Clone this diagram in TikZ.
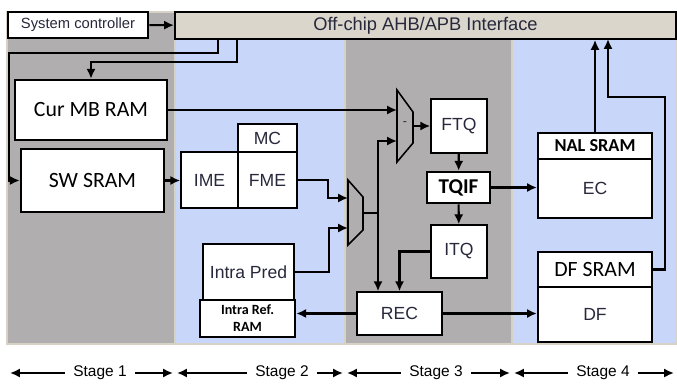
\documentclass[tikz,border=0pt]{standalone}
\usepackage{fontspec}
\setmainfont{Liberation Sans}
\newfontfamily\calibri{Carlito}
\usetikzlibrary{positioning,arrows.meta}
\definecolor{stagegray}{RGB}{176,174,174}
\definecolor{stageblue}{RGB}{200,214,250}
\definecolor{busfill}{RGB}{218,214,204}
\definecolor{stageedge}{RGB}{214,210,198}
\definecolor{labelcol}{RGB}{40,40,60}

\begin{document}
\begin{tikzpicture}[x=0.025cm,y=-0.025cm,>={Latex[length=7pt,width=6.5pt]}]
  % Styles for the encoder pipeline
  \tikzset{
    memory/.style={rectangle, draw=black, fill=white, line width=1.8pt, inner sep=0pt, text centered, font=\calibri\fontsize{15.5}{18}\selectfont},
    memsmall/.style={memory, font=\calibri\bfseries\fontsize{13}{15}\selectfont},
    module/.style={rectangle, draw=black, fill=white, line width=1.1pt, inner sep=0pt, text centered, text=labelcol, font=\fontsize{12.5}{15}\selectfont},
    mux/.style={draw=black, line width=1.1pt, fill=stagegray},
    conn/.style={->, line width=1.5pt},
    stagebg/.style={draw=stageedge, line width=1.2pt},
    stagelabel/.style={font=\fontsize{11}{13}\selectfont, inner xsep=6pt},
    stagearrow/.style={->, line width=1.2pt, shorten >=1.5pt}
  }
  \useasboundingbox (0,0) rectangle (677,383);

  % Stage backgrounds
  \draw[stagebg, fill=stagegray] (7,12) rectangle (175,344);
  \draw[stagebg, fill=stageblue] (175,39) rectangle (345,344);
  \draw[stagebg, fill=stagegray] (345,39) rectangle (512,344);
  \draw[stagebg, fill=stageblue] (512,39) rectangle (677,344);

  % Top row
  \node[module, line width=1.8pt, minimum width=3.5cm, minimum height=0.65cm, font=\fontsize{10.5}{12}\selectfont] (sysctrl) at (78,25) {System controller};
  \node[rectangle, draw=black, fill=busfill, line width=1.3pt, minimum width=12.525cm, minimum height=0.675cm, inner sep=0pt, text=labelcol, font=\fontsize{13}{15}\selectfont] (bus) at (425.5,25.5) {Off-chip AHB/APB Interface};

  % Stage 1
  \node[memory, minimum width=3.8cm, minimum height=1.5cm] (curmb) at (91,110) {Cur MB RAM};
  \node[memory, minimum width=3.575cm, minimum height=1.575cm] (swsram) at (92.5,180.5) {SW SRAM};

  % Stage 2
  \node[module, minimum width=1.425cm, minimum height=1.4cm] (ime) at (209.5,180) {IME};
  \node[module, minimum width=1.475cm, minimum height=1.4cm] (fme) at (267.5,180) {FME};
  \node[module, minimum width=1.475cm, minimum height=0.7cm] (mc) at (267.5,138) {MC};
  \node[module, minimum width=2.275cm, minimum height=1.4cm] (intrapred) at (248.5,272) {Intra Pred};
  \node[memsmall, minimum width=2.375cm, minimum height=0.925cm, align=center, font=\calibri\bfseries\fontsize{10}{12}\selectfont] (intraref) at (247.5,318.5) {Intra Ref.\\RAM};

  % Stage 3
  \node[module, minimum width=1.4cm, minimum height=1.35cm] (ftq) at (459,126) {FTQ};
  \node[memsmall, minimum width=1.575cm, minimum height=0.775cm, font=\calibri\bfseries\fontsize{15}{17}\selectfont] (tqif) at (458.5,187.5) {TQIF};
  \node[module, minimum width=1.4cm, minimum height=1.325cm] (itq) at (459,251.5) {ITQ};
  \node[module, minimum width=2.125cm, minimum height=1.075cm] (rec) at (399.5,313.5) {REC};

  % Stage 4
  \node[memsmall, minimum width=2.85cm, minimum height=0.65cm] (nal) at (595,146) {NAL SRAM};
  \node[module, line width=1.5pt, minimum width=2.85cm, minimum height=1.475cm] (ec) at (595,188.5) {EC};
  \node[memory, minimum width=2.85cm, minimum height=0.875cm] (dfsram) at (595,269.5) {DF SRAM};
  \node[module, line width=1.5pt, minimum width=2.85cm, minimum height=1.375cm] (df) at (595,314.5) {DF};

  % Multiplexers
  \draw[mux] (397,90) -- (413,112) -- (413,143) -- (397,162) -- cycle;
  \node[font=\small, text=labelcol, inner sep=0pt] (subsign) at (405,124) {-};
  \coordinate (subA) at (397,110);
  \coordinate (subB) at (397,141);
  \coordinate (subO) at (413,126);
  \draw[mux] (348,180) -- (363,197) -- (363,230) -- (348,245) -- cycle;
  \coordinate (selA) at (348,198);
  \coordinate (selB) at (348,228);
  \coordinate (selO) at (363,213);
  \coordinate (split) at (378,213);

  % Bus taps
  \coordinate (busA) at (218,39);
  \coordinate (busB) at (237,39);
  \coordinate (busC) at (608,39);

  % Connections
  \draw[conn] (sysctrl) -- (bus);
  \draw[conn] (busA) |- (9,53) |- (swsram.west);
  \draw[conn] (busB) -- (237,62) -| (curmb.north);
  \draw[conn] (curmb.east) -- (subA);
  \draw[conn] (subO) -- (ftq.west);
  \draw[conn] (swsram.east) -- (swsram.east -| ime.west);
  \draw[conn] (fme.east) -- ++(30,0) |- (selA);
  \draw[conn] (intrapred.east) -- ++(34,0) |- (selB);
  \draw[line width=1.5pt] (selO) -- (split);
  \draw[conn] (split) |- (subB);
  \draw[conn] (split) -- (split |- rec.north);
  \draw[conn] (ftq) -- (tqif);
  \draw[conn] (tqif) -- (itq);
  \draw[conn] (itq.west) -| (rec.north);
  \draw[conn] (tqif.east) -- (tqif.east -| ec.west);
  \draw[conn] (rec.west) -- (rec.west -| intraref.east);
  \draw[conn] (rec.east) -- (rec.east -| df.west);
  \draw[conn] (nal.north) -- (nal.north |- bus.south);
  \draw[conn] (dfsram.east) -| (665,97) -| (busC);

  % Stage labels
  \coordinate (b0) at (8,373);
  \coordinate (b1) at (175,373);
  \coordinate (b2) at (345,373);
  \coordinate (b3) at (512,373);
  \coordinate (b4) at (676,373);
  \node[stagelabel] (st1) at (100,373) {Stage 1};
  \node[stagelabel] (st2) at (282,373) {Stage 2};
  \node[stagelabel] (st3) at (436,373) {Stage 3};
  \node[stagelabel] (st4) at (603,373) {Stage 4};
  \draw[stagearrow] (st1.west) -- (b0);
  \draw[stagearrow] (st1.east) -- (b1);
  \draw[stagearrow] (st2.west) -- (b1);
  \draw[stagearrow] (st2.east) -- (b2);
  \draw[stagearrow] (st3.west) -- (b2);
  \draw[stagearrow] (st3.east) -- (b3);
  \draw[stagearrow] (st4.west) -- (b3);
  \draw[stagearrow] (st4.east) -- (b4);
\end{tikzpicture}
\end{document}
